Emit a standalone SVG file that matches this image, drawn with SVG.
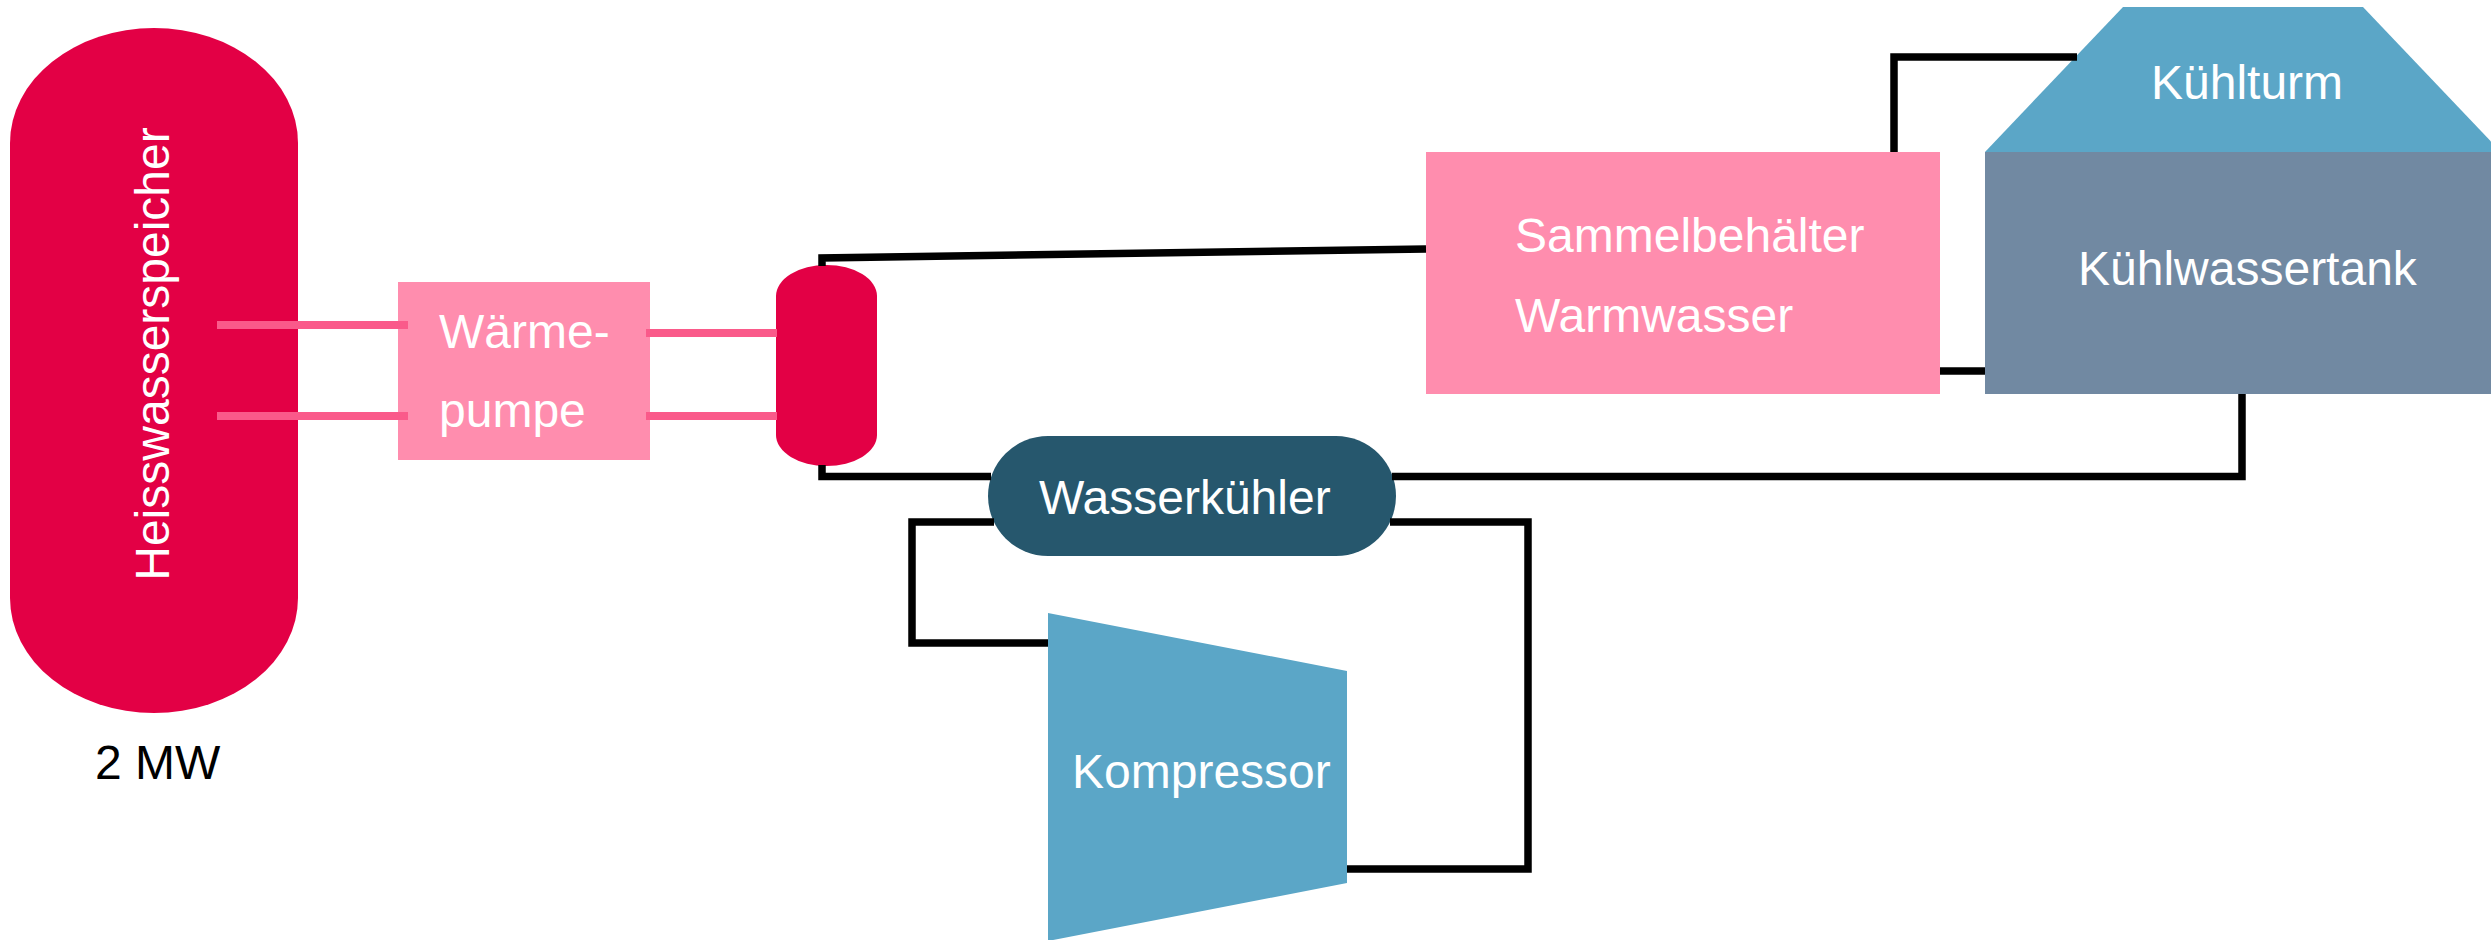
<svg xmlns="http://www.w3.org/2000/svg" width="2491" height="940" viewBox="0 0 2491 940">
<style>
.lbl{font-family:"Liberation Sans",Arial,sans-serif;font-size:48px;fill:#ffffff}
.blk{fill:#000000}
.pipe{fill:none;stroke:#000000;stroke-width:7.5;stroke-linejoin:miter}
.hot{fill:none;stroke:#FA5A8A;stroke-width:8}
</style>
<rect x="0" y="0" width="2491" height="940" fill="#ffffff"/>
<g id="heisswasserspeicher">
<path d="M10,143 A144,115 0 0 1 298,143 L298,598 A144,115 0 0 1 10,598 Z" fill="#E30045"/>
<text class="lbl" transform="translate(169,354) rotate(-90)" text-anchor="middle">Heisswasserspeicher</text>
<text class="lbl blk" x="95" y="779">2 MW</text>
</g>
<g id="waermepumpe">
<rect x="398" y="282" width="252" height="178" fill="#FF8DAE"/>
<text class="lbl" x="439" y="348">Wärme-</text>
<text class="lbl" x="439" y="427">pumpe</text>
</g>
<g id="puffertank">
<path d="M776,296 A50.5,31 0 0 1 877,296 L877,435 A50.5,31 0 0 1 776,435 Z" fill="#E30045"/>
</g>
<g id="wasserkuehler">
<rect x="988" y="436" width="408" height="120" rx="60" ry="60" fill="#26576D"/>
<text class="lbl" x="1039" y="514">Wasserkühler</text>
</g>
<g id="kompressor">
<polygon points="1048,613 1347,671 1347,883 1048,941" fill="#5BA6C7"/>
<text class="lbl" x="1072" y="788">Kompressor</text>
</g>
<g id="sammelbehaelter">
<rect x="1426" y="152" width="514" height="242" fill="#FF8DAE"/>
<text class="lbl" x="1515" y="252">Sammelbehälter</text>
<text class="lbl" x="1515" y="332">Warmwasser</text>
</g>
<g id="kuehlturm">
<polygon points="2123,7 2363,7 2501,152 1985,152" fill="#5BA6C7"/>
<text class="lbl" x="2151" y="99">Kühlturm</text>
</g>
<g id="kuehlwassertank">
<rect x="1985" y="152" width="506" height="242" fill="#7189A2"/>
<text class="lbl" x="2078" y="285">Kühlwassertank</text>
</g>
<g id="connectors">
<polyline class="pipe" points="822,266 822,258 1426,249"/>
<polyline class="pipe" points="822,465 822,476.5 991,476.5"/>
<polyline class="pipe" points="1392,476.5 2242,476.5 2242,394"/>
<polyline class="pipe" points="994,522 912,522 912,643 1048,643"/>
<polyline class="pipe" points="1390,522 1528,522 1528,869 1347,869"/>
<polyline class="pipe" points="1894,152 1894,57 2077,57"/>
<line class="pipe" x1="1940" y1="371" x2="1985" y2="371"/>
<line class="hot" x1="217" y1="325" x2="408" y2="325"/>
<line class="hot" x1="217" y1="416" x2="408" y2="416"/>
<line class="hot" x1="646" y1="333" x2="777" y2="333"/>
<line class="hot" x1="646" y1="416" x2="777" y2="416"/>
</g>
</svg>
